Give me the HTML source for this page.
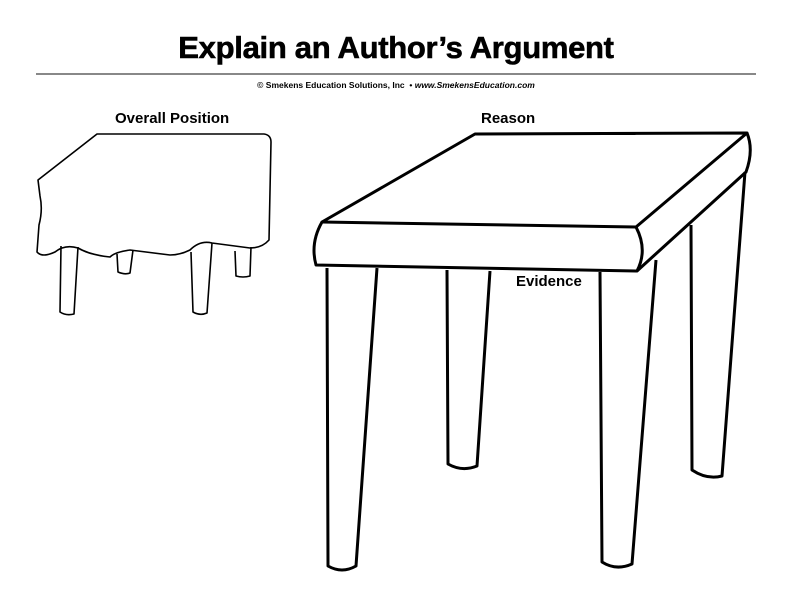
<!DOCTYPE html>
<html><head><meta charset="utf-8"><style>
html,body{margin:0;padding:0;background:#fff}
body{width:792px;height:612px;position:relative;overflow:hidden;font-family:"Liberation Sans",sans-serif}
.t{position:absolute;left:0;width:792px;text-align:center}
</style></head><body>
<div class="t" style="top:30px;font-size:31px;font-weight:bold;letter-spacing:-0.3px;-webkit-text-stroke:0.6px #000">Explain an Author’s Argument</div>
<div style="position:absolute;left:36px;top:73px;width:720px;height:2px;background:#888"></div>
<div class="t" style="top:80px;font-size:8.5px;font-weight:bold">© Smekens Education Solutions, Inc &nbsp;• <i>www.SmekensEducation.com</i></div>
<div style="position:absolute;left:115px;top:110px;font-size:15px;font-weight:bold">Overall Position</div>
<div style="position:absolute;left:481px;top:110px;font-size:15px;font-weight:bold">Reason</div>
<div style="position:absolute;left:516px;top:273px;font-size:15px;font-weight:bold">Evidence</div>
<svg width="792" height="612" style="position:absolute;left:0;top:0" fill="none" stroke="#000" stroke-linejoin="round">
<g stroke-width="1.6">
<path d="M97,134 L264,134 Q271,135 271,142 L269,240 Q262,248 250,248 L212,243 Q200,240 190,250 Q180,255 170,255 L130,250 Q115,252 110,257 Q90,255 78,248 Q65,244 55,252 Q42,258 37,252 L39,225 Q43,210 40,196 L38,180 Z"/>
<path d="M61,246 L60,312 Q66,316 74,314 L78,247"/>
<path d="M117,254 L118,272 Q125,275 130,273 L133,250"/>
<path d="M191,252 L193,312 Q200,316 207,313 L212,243"/>
<path d="M235,251 L236,276 Q243,278 250,276 L251,247"/>
</g>
<g stroke-width="3">
<path d="M475,134 L747,133 L636,227 L322,222 Z"/>
<path d="M322,222 Q310,243 316,265 L637,271 Q648,250 636,227"/>
<path d="M747,133 Q754,150 746,172 L637,271"/>
<path d="M327,268 L328,566 Q342,574 356,566 L377,268"/>
<path d="M447,270 L448,464 Q462,472 477,466 L490,271"/>
<path d="M600,272 L602,562 Q616,571 632,564 L656,260"/>
<path d="M691,225 L692,470 Q707,480 722,476 L745,172"/>
</g>
</svg>
</body></html>
